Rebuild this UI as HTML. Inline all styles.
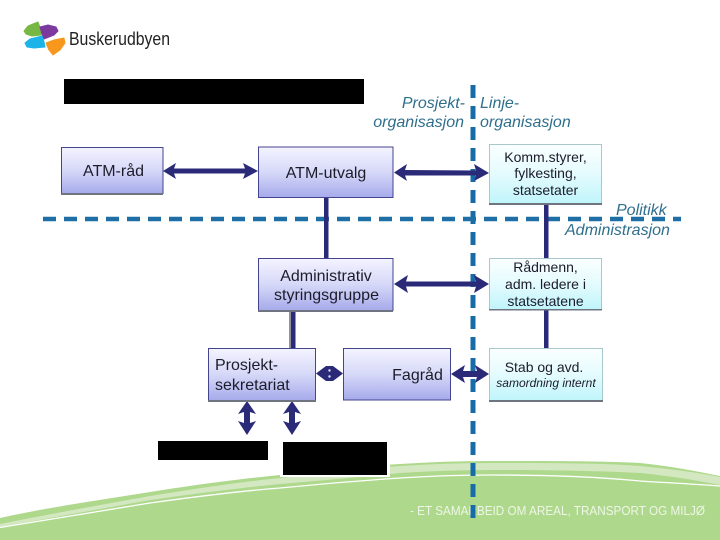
<!DOCTYPE html>
<html>
<head>
<meta charset="utf-8">
<style>
html,body{margin:0;padding:0;background:#fff;width:720px;height:540px;overflow:hidden}
svg{display:block}
text{font-family:"Liberation Sans",sans-serif}
.t{font-size:16px;fill:#1c1c2a;text-anchor:middle}
.s{font-size:14px;fill:#1c1c2a;text-anchor:middle}
.i{font-size:16px;fill:#2f6f8c;font-style:italic}
</style>
</head>
<body>
<svg width="720" height="540" viewBox="0 0 720 540" xmlns="http://www.w3.org/2000/svg">
<defs>
<linearGradient id="p" x1="0" y1="0" x2="0" y2="1"><stop offset="0" stop-color="#f4f4ff"/><stop offset=".5" stop-color="#d6d8f8"/><stop offset="1" stop-color="#a6aaea"/></linearGradient>
<linearGradient id="c" x1="0" y1="0" x2="0" y2="1"><stop offset="0" stop-color="#fbffff"/><stop offset=".5" stop-color="#e4fbfe"/><stop offset="1" stop-color="#bff5fb"/></linearGradient>
</defs>

<!-- green ground -->
<path d="M0 518 C50 507 100 500 150 492 C200 484 240 479 280 475 C330 470 370 466 400 464 C430 462 460 461 490 461 C550 461 600 461 640 463 C670 466 695 471 720 476 L720 540 L0 540Z" fill="#aed88c"/>
<path d="M0 524 C50 514 100 505 150 496 C200 488 240 482 280 478 C330 473 370 468 400 466 C430 464 460 463 490 463 C550 463 600 463 640 466 C670 469 695 472 720 477 L720 485 C695 480 670 476 640 473 C600 471 550 470 490 470 C460 470 430 471 400 473 C370 476 330 480 280 484 C240 488 200 493 150 500 C100 509 50 518 0 527Z" fill="#d3e8c0"/>
<path d="M0 527.500 C50 519 100 511 150 503 C200 496 240 491 280 488 C330 483 370 480 400 478 C430 476 460 475 490 475 C550 475 600 477 640 481 C670 483 695 484 720 486" fill="none" stroke="#fff" stroke-width="1.300"/>

<!-- logo -->
<path d="M24 31 L28 26 L38 22 L41 30 L41 35 L32 36 L26 34Z" fill="#76b843" stroke="#76b843" stroke-linejoin="round"/>
<path d="M40 27 L48 25 L56 27 L58 31 L54 35 L44 39 L42 34Z" fill="#7d3a9e" stroke="#7d3a9e" stroke-linejoin="round"/>
<path d="M25 43 L30 39 L42 36 L44 42 L45 47 L34 48 L27 47Z" fill="#1cb4e8" stroke="#1cb4e8" stroke-linejoin="round"/>
<path d="M46 43 L54 40 L64 38 L65 43 L60 50 L53 55 L49 50Z" fill="#f7981d" stroke="#f7981d" stroke-linejoin="round"/>
<text x="69" y="45" font-size="18.500" fill="#222" textLength="101" lengthAdjust="spacingAndGlyphs">Buskerudbyen</text>

<!-- redaction blocks -->
<rect x="64" y="79" width="300" height="25" fill="#000"/>
<rect x="158" y="441" width="110" height="19" fill="#000"/>
<rect x="280" y="440" width="110" height="37" fill="#fff"/>
<rect x="283" y="442" width="104" height="33" fill="#000"/>

<!-- footer text -->
<text x="410" y="515" font-size="12.500" fill="#eef6e6" textLength="295" lengthAdjust="spacingAndGlyphs">- ET SAMARBEID OM AREAL, TRANSPORT OG MILJØ</text>

<!-- dashed guides -->
<line x1="473" y1="85" x2="473" y2="518" stroke="#176ca8" stroke-width="5" stroke-dasharray="13 8"/>
<line x1="43" y1="219" x2="681" y2="219" stroke="#1d6fa5" stroke-width="4.500" stroke-dasharray="13 8"/>

<!-- vertical connectors -->
<rect x="324" y="198" width="4.500" height="60" fill="#2a2a78"/>
<rect x="544" y="204" width="4.500" height="54" fill="#2a2a78"/>
<rect x="544" y="310" width="4.500" height="38" fill="#2a2a78"/>
<rect x="289" y="311" width="2.500" height="37" fill="#8f8f9f"/>
<rect x="291" y="311" width="4.500" height="37" fill="#2a2a78"/>

<!-- double arrows, horizontal -->
<g fill="#2a2a78">
<path d="M163 171 L176 163 L174 168.500 L245 168.500 L243 163 L258 171 L243 179 L245 173.500 L174 173.500 L176 179Z"/>
<path d="M394 172.500 L407 164 L405 170 L476 170.500 L474 164 L489 173 L474 181 L476 175.500 L405 175.500 L407 181Z"/>
<path d="M394 284 L408 275 L406 281.500 L476 281.500 L474 275 L489 284 L474 293 L476 286.500 L406 286.500 L408 293Z"/>
<path d="M451 374 L465 365 L463 371 L477 371 L475 365 L489 374 L475 383 L477 377 L463 377 L465 383Z"/>
<path d="M316 373.500 L326 366 L333 366 L343 373.500 L333 381 L326 381Z"/>
<path d="M247 401 L256 414 L250 412 L250 423 L256 421 L247 435 L238 421 L244 423 L244 412 L238 414Z"/>
<path d="M292 401 L301 414 L295 412 L295 423 L301 421 L292 435 L283 421 L289 423 L289 412 L283 414Z"/>
</g>
<circle cx="329.500" cy="370.500" r="1.200" fill="#dfe0f5"/>
<circle cx="329.500" cy="376.500" r="1.200" fill="#dfe0f5"/>

<!-- nodes -->
<g stroke="#45458f" stroke-width="1">
<rect x="61.500" y="147.500" width="101.500" height="46" fill="url(#p)"/>
<rect x="258.500" y="147" width="134.500" height="50.500" fill="url(#p)"/>
<rect x="258.500" y="258.500" width="134.500" height="52" fill="url(#p)"/>
<rect x="208.500" y="348.500" width="107" height="52" fill="url(#p)"/>
<rect x="343.500" y="348.500" width="107" height="51.500" fill="url(#p)"/>
</g>
<g stroke="#a9c8cc" stroke-width="1">
<rect x="489.500" y="144.500" width="112" height="59" fill="url(#c)"/>
<rect x="489.500" y="258.500" width="112" height="51" fill="url(#c)"/>
<rect x="489.500" y="348.500" width="113" height="52" fill="url(#c)"/>
</g>
<g fill="#6f7580">
<rect x="489" y="203" width="113" height="2"/>
<rect x="489" y="309" width="113" height="1.500"/>
<rect x="489" y="400" width="114" height="2"/>
<rect x="258" y="310" width="135" height="2"/>
<rect x="208" y="400" width="108" height="2"/>
<rect x="61" y="193" width="102" height="2"/>
</g>

<!-- node labels -->
<text class="t" x="113.500" y="176">ATM-råd</text>
<text class="t" x="326" y="178">ATM-utvalg</text>
<text class="t" x="326" y="281">Administrativ</text>
<text class="t" x="326.500" y="300">styringsgruppe</text>
<text x="215" y="370" font-size="16" fill="#1c1c2a">Prosjekt-</text>
<text x="215" y="390" font-size="16" fill="#1c1c2a">sekretariat</text>
<text class="t" x="417.500" y="380">Fagråd</text>
<text class="s" x="545.500" y="162">Komm.styrer,</text>
<text class="s" x="545.500" y="178">fylkesting,</text>
<text class="s" x="545.500" y="195">statsetater</text>
<text class="s" x="545.500" y="272">Rådmenn,</text>
<text class="s" x="545.500" y="289">adm. ledere i</text>
<text class="s" x="545.500" y="306">statsetatene</text>
<text class="s" x="544" y="372">Stab og avd.</text>
<text x="546" y="387" font-size="12" font-style="italic" fill="#1c1c2a" text-anchor="middle">samordning internt</text>

<!-- annotations -->
<text class="i" x="465" y="108" text-anchor="end">Prosjekt-</text>
<text class="i" x="464" y="127" text-anchor="end">organisasjon</text>
<text class="i" x="480" y="108">Linje-</text>
<text class="i" x="480" y="127">organisasjon</text>
<text class="i" x="616" y="215">Politikk</text>
<text class="i" x="565" y="235">Administrasjon</text>
</svg>
</body>
</html>
